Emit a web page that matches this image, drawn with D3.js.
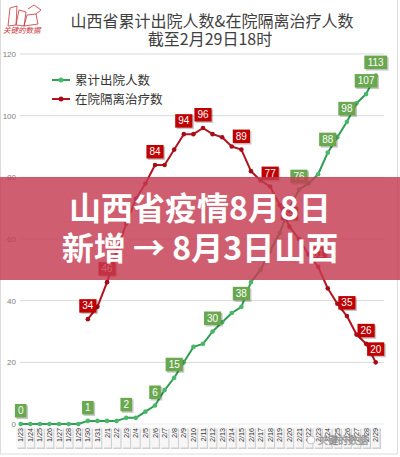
<!DOCTYPE html>
<html>
<head>
<meta charset="utf-8">
<script src="https://cdn.jsdelivr.net/npm/d3@7"></script>
<style>
  body { margin: 0; background: #fff; }
  svg { display: block; font-family: "Noto Sans CJK SC", "Noto Sans", sans-serif; }
</style>
</head>
<body>
<div class="graph"></div>
<script>
// data
var dates = ['1/23','1/24','1/25','1/26','1/27','1/28','1/29','1/30','1/31',
  '2/1','2/2','2/3','2/4','2/5','2/6','2/7','2/8','2/9','2/10','2/11','2/12','2/13','2/14',
  '2/15','2/16','2/17','2/18','2/19','2/20','2/21','2/22','2/23','2/24','2/25','2/26','2/27','2/28','2/29']
var discharged = [0,0,0,0,0,0,0,1,1,1,1,2,2,4,6,11,15,20,25,26,30,33,36,38,46,50,56,62,70,76,78,81,88,93,98,104,107,113]
var inHospital = [null,null,null,null,null,null,null,34,38,46,56,65,73,78,84,84,89,94,94,96,94,93,90,89,82,79,77,71,64,60,55,51,44,39,35,29,26,20]
var dischargedLabelAt = [0,7,11,14,16,20,23,29,32,34,36,37]
var inHospitalLabelAt = [7,9,14,17,19,23,26,28,31,34,36,37]
var yTicks = [0,20,40,60,80,100,120]

var width = 400, height = 457

var svg = d3.select('.graph')
    .append('svg')
    .attr('width', width)
    .attr('height', height)

var x = d3.scalePoint().domain(dates).range([20.7, 375.7])
var y = d3.scaleLinear().domain([0, 120]).range([424, 54])

// frame
svg.append('rect')
    .attr('x', 0.5).attr('y', -2)
    .attr('width', 397).attr('height', 456)
    .style('fill', 'none')
    .style('stroke', '#dcdcdc')

// logo (rough sketch)
var logo = svg.append('g').style('fill', 'none').style('stroke', '#c8333a').style('stroke-width', 0.8)
logo.append('path').attr('d', 'M8,26 L10,8 L17,6 L16,25 Z')
logo.append('path').attr('d', 'M16,25 L19,10 L26,12 L24,26 Z')
logo.append('path').attr('d', 'M24,26 L27,15 L36,14 L38,24 Z')
logo.append('path').attr('d', 'M28,9 L34,5 L41,10 L36,14')
svg.append('text')
    .attr('x', 3).attr('y', 33)
    .style('font-size', '7.5px')
    .style('font-style', 'italic')
    .style('fill', '#c8333a')
    .text('关键的数据')

// title
svg.append('text')
    .attr('x', 212).attr('y', 27)
    .attr('text-anchor', 'middle')
    .style('font-size', '16px')
    .style('fill', '#404040')
    .text('山西省累计出院人数&在院隔离治疗人数')
svg.append('text')
    .attr('x', 210).attr('y', 45)
    .attr('text-anchor', 'middle')
    .style('font-size', '16px')
    .style('fill', '#404040')
    .text('截至2月29日18时')

// grid + y labels
svg.append('g').selectAll('line')
    .data(yTicks)
    .join('line')
    .attr('x1', 20).attr('x2', 384)
    .attr('y1', d => y(d)).attr('y2', d => y(d))
    .style('stroke', d => d == 0 ? '#ececec' : '#d9d9d9')
    .style('stroke-width', 1)
svg.append('g').selectAll('text')
    .data(yTicks)
    .join('text')
    .attr('x', 16)
    .attr('y', d => y(d) + 3)
    .attr('text-anchor', 'end')
    .style('font-family', 'Liberation Sans')
    .style('font-size', '8px')
    .style('fill', '#808080')
    .text(d => d)

// x tick labels (rotated, in little boxes)
var ticks = svg.append('g').selectAll('g')
    .data(dates)
    .join('g')
    .attr('transform', d => 'translate(' + x(d) + ',0)')
ticks.append('rect')
    .attr('x', -3.2).attr('y', 428.5)
    .attr('width', 8.5).attr('height', 20.5)
    .style('fill', '#cfcfcf')
ticks.append('rect')
    .attr('x', -4.7).attr('y', 427)
    .attr('width', 8.5).attr('height', 20.5)
    .style('fill', '#f6f6f6')
ticks.append('text')
    .attr('transform', 'translate(2.6,428) rotate(-90)')
    .attr('text-anchor', 'end')
    .style('font-family', 'Liberation Sans')
    .style('font-size', '7.2px')
    .style('fill', '#333')
    .text(d => d)

// watermark
svg.append('circle')
    .attr('cx', 311).attr('cy', 440).attr('r', 4)
    .style('fill', '#fff').style('stroke', '#999').style('stroke-width', 0.6)
svg.append('text')
    .attr('x', 318).attr('y', 444)
    .style('font-size', '10px')
    .style('fill', '#fff')
    .style('stroke', '#8a8a8a')
    .style('stroke-width', 0.5)
    .text('关键的数据')

// lines
function drawSeries(values, lineColor, dotColor) {
    var pts = dates.map((d, i) => [d, values[i]])
    var line = d3.line()
        .defined(p => p[1] != null)
        .x(p => x(p[0]))
        .y(p => y(p[1]))
    svg.append('path')
        .datum(pts)
        .attr('d', line)
        .style('fill', 'none')
        .style('stroke', lineColor)
        .style('stroke-width', 2)
        .attr('stroke-linejoin', 'round')
    svg.append('g').selectAll('circle')
        .data(pts.filter(p => p[1] != null))
        .join('circle')
        .attr('cx', p => x(p[0]))
        .attr('cy', p => y(p[1]))
        .attr('r', 2.3)
        .style('fill', dotColor)
}
drawSeries(discharged, '#2f9e52', '#49b86a')
drawSeries(inHospital, '#b3121f', '#a50d18')

// value labels
function drawLabels(values, idx, fill) {
    var g = svg.append('g').selectAll('g')
        .data(idx)
        .join('g')
        .attr('transform', i => 'translate(' + x(dates[i]) + ',' + (y(values[i]) - 13.5) + ')')
    g.each(function(i) {
        var w = String(values[i]).length * 5.6 + 6
        var sel = d3.select(this)
        sel.append('rect')
            .attr('x', -w / 2 + 1.5).attr('y', -6.5 + 1.5)
            .attr('width', w).attr('height', 13.5)
            .style('fill', 'rgba(0,0,0,0.22)')
        sel.append('rect')
            .attr('x', -w / 2).attr('y', -6.5)
            .attr('width', w).attr('height', 13.5)
            .style('fill', fill)
        sel.append('text')
            .attr('y', 3.8)
            .attr('text-anchor', 'middle')
            .style('font-family', 'Liberation Sans')
            .style('font-size', '10px')
            .style('fill', '#fff')
            .text(values[i])
    })
}
drawLabels(discharged, dischargedLabelAt, '#6aa84f')
drawLabels(inHospital, inHospitalLabelAt, '#c00000')

// legend
var legend = [
    {name: '累计出院人数', line: '#2f9e52', dot: '#49b86a', y: 80},
    {name: '在院隔离治疗数', line: '#b3121f', dot: '#a50d18', y: 99}
]
var lg = svg.append('g').selectAll('g')
    .data(legend)
    .join('g')
    .attr('transform', d => 'translate(0,' + d.y + ')')
lg.append('line')
    .attr('x1', 52).attr('x2', 70)
    .style('stroke', d => d.line)
    .style('stroke-width', 2)
lg.append('circle')
    .attr('cx', 61).attr('r', 2.5)
    .style('fill', d => d.dot)
lg.append('text')
    .attr('x', 75).attr('y', 5)
    .style('font-size', '12.5px')
    .style('fill', '#333')
    .text(d => d.name)

// banner overlay
svg.append('rect')
    .attr('x', 0).attr('y', 177)
    .attr('width', width).attr('height', 103)
    .style('fill', 'rgba(196,60,80,0.82)')
var banner = ['山西省疫情8月8日', '新增 → 8月3日山西']
svg.append('g').selectAll('text')
    .data(banner)
    .join('text')
    .attr('x', 200)
    .attr('y', (d, i) => 220 + i * 40)
    .attr('text-anchor', 'middle')
    .style('font-size', '32px')
    .style('font-weight', 700)
    .style('fill', '#fff')
    .text(d => d)
</script>
</body>
</html>
